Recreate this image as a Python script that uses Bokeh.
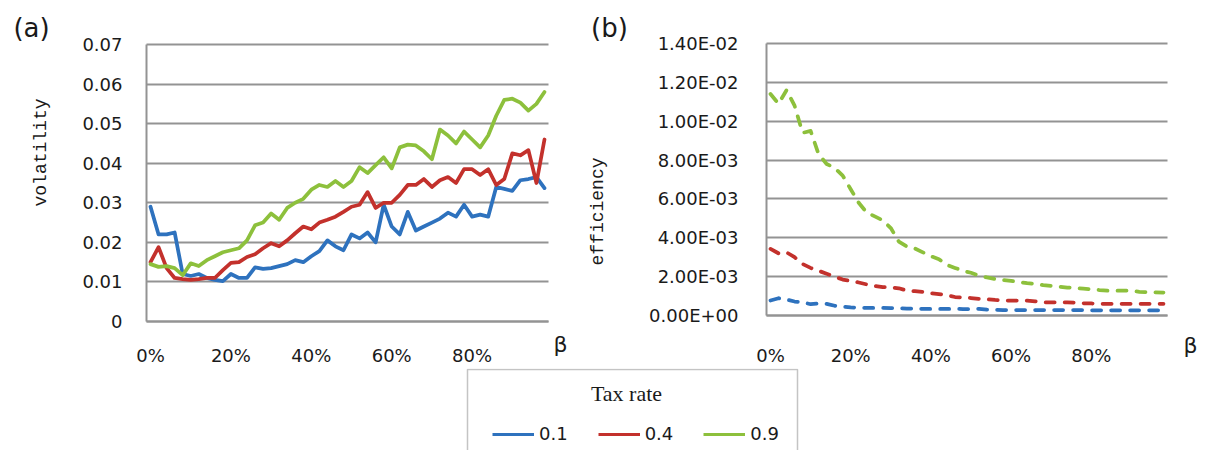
from math import pi
from bokeh.plotting import figure
from bokeh.layouts import row, column
from bokeh.models import (Range1d, FixedTicker, Label, Legend, LegendItem, BoxAnnotation)
from bokeh.embed import file_html
from bokeh.resources import INLINE

# ---------------- data ----------------
beta = list(range(0, 100, 2))  # beta in percent
x_ticks = [0, 20, 40, 60, 80]
x_tick_labels = ["0%", "20%", "40%", "60%", "80%"]
vol_ticks = [0, 0.01, 0.02, 0.03, 0.04, 0.05, 0.06, 0.07]
vol_tick_labels = ["0", "0.01", "0.02", "0.03", "0.04", "0.05", "0.06", "0.07"]
eff_ticks = [0, 0.002, 0.004, 0.006, 0.008, 0.010, 0.012, 0.014]
eff_tick_labels = ["0.00E+00", "2.00E-03", "4.00E-03", "6.00E-03", "8.00E-03",
                   "1.00E-02", "1.20E-02", "1.40E-02"]
tax_rates = ["0.1", "0.4", "0.9"]

vol_01 = [0.029, 0.022, 0.022, 0.0225, 0.012, 0.0115, 0.012, 0.011, 0.0105, 0.0102,
          0.012, 0.011, 0.011, 0.0137, 0.0133, 0.0135, 0.014, 0.0145, 0.0155, 0.015,
          0.0165, 0.0178, 0.0205, 0.019, 0.018, 0.022, 0.021, 0.0225, 0.020, 0.0295,
          0.024, 0.022, 0.0277, 0.023, 0.024, 0.025, 0.026, 0.0275, 0.0265, 0.0295,
          0.0265, 0.027, 0.0265, 0.034, 0.0335, 0.033, 0.0357, 0.036, 0.0365, 0.0337]
vol_04 = [0.015, 0.0188, 0.0135, 0.011, 0.0107, 0.0105, 0.0107, 0.011, 0.011, 0.013,
          0.0148, 0.015, 0.0163, 0.017, 0.0185, 0.0198, 0.019, 0.0205, 0.0223, 0.024,
          0.0233, 0.025, 0.0257, 0.0265, 0.0277, 0.029, 0.0295, 0.0327, 0.0287, 0.030,
          0.030, 0.032, 0.0345, 0.0345, 0.036, 0.034, 0.0357, 0.0365, 0.035, 0.0385,
          0.0385, 0.037, 0.0385, 0.0345, 0.036, 0.0425, 0.042, 0.0433, 0.035, 0.046]
vol_09 = [0.0145, 0.0138, 0.014, 0.0135, 0.0117, 0.0147, 0.014, 0.0155, 0.0165, 0.0175,
          0.018, 0.0185, 0.0205, 0.0243, 0.025, 0.0273, 0.0257, 0.0287, 0.030, 0.031,
          0.0333, 0.0345, 0.034, 0.0355, 0.034, 0.0355, 0.039, 0.0375, 0.0395, 0.0415,
          0.0387, 0.044, 0.0447, 0.0445, 0.043, 0.041, 0.0485, 0.047, 0.045, 0.048,
          0.046, 0.044, 0.047, 0.052, 0.056, 0.0563, 0.0553, 0.0533, 0.055, 0.058]

eff_01 = [7.7e-4, 8.9e-4, 8.2e-4, 7.2e-4, 6.8e-4, 5.8e-4, 6.2e-4, 6.0e-4, 5.0e-4, 4.5e-4,
          4.2e-4, 4.0e-4, 3.9e-4, 3.9e-4, 3.9e-4, 3.8e-4, 3.7e-4, 3.6e-4, 3.5e-4, 3.4e-4,
          3.4e-4, 3.4e-4, 3.4e-4, 3.4e-4, 3.3e-4, 3.2e-4, 3.4e-4, 3.0e-4, 2.9e-4, 2.8e-4,
          2.8e-4, 2.8e-4, 2.8e-4, 2.8e-4, 2.8e-4, 2.8e-4, 2.8e-4, 2.8e-4, 2.8e-4, 2.8e-4,
          2.7e-4, 2.7e-4, 2.7e-4, 2.7e-4, 2.7e-4, 2.7e-4, 2.7e-4, 2.7e-4, 2.7e-4, 2.7e-4]
eff_04 = [3.43e-3, 3.2e-3, 3.25e-3, 3.0e-3, 2.65e-3, 2.45e-3, 2.3e-3, 2.15e-3, 2.0e-3, 1.85e-3,
          1.78e-3, 1.7e-3, 1.6e-3, 1.52e-3, 1.46e-3, 1.45e-3, 1.4e-3, 1.28e-3, 1.25e-3, 1.22e-3,
          1.15e-3, 1.1e-3, 1.05e-3, 0.95e-3, 0.92e-3, 0.9e-3, 0.86e-3, 0.84e-3, 0.8e-3, 0.77e-3,
          0.77e-3, 0.77e-3, 0.76e-3, 0.73e-3, 0.68e-3, 0.68e-3, 0.68e-3, 0.68e-3, 0.66e-3, 0.63e-3,
          0.62e-3, 0.6e-3, 0.6e-3, 0.6e-3, 0.6e-3, 0.6e-3, 0.6e-3, 0.6e-3, 0.6e-3, 0.6e-3]
eff_09 = [11.4e-3, 10.9e-3, 11.6e-3, 10.8e-3, 9.4e-3, 9.5e-3, 8.3e-3, 7.8e-3, 7.6e-3, 7.2e-3,
          6.5e-3, 5.8e-3, 5.3e-3, 5.1e-3, 4.9e-3, 4.5e-3, 3.8e-3, 3.55e-3, 3.45e-3, 3.25e-3,
          3.05e-3, 2.9e-3, 2.6e-3, 2.45e-3, 2.3e-3, 2.2e-3, 2.05e-3, 1.96e-3, 1.88e-3, 1.82e-3,
          1.78e-3, 1.72e-3, 1.67e-3, 1.63e-3, 1.56e-3, 1.52e-3, 1.48e-3, 1.44e-3, 1.41e-3, 1.38e-3,
          1.35e-3, 1.31e-3, 1.28e-3, 1.28e-3, 1.28e-3, 1.27e-3, 1.22e-3, 1.2e-3, 1.19e-3, 1.18e-3]

colors = ["#2E72BE", "#C3312C", "#8DC03C"]

# ---------------- styling / geometry ----------------
TICK_FONT = "DejaVu Sans"
TICK_SIZE = "18px"
TXT = "#1a1a1a"
GRID = "#939393"
ROW_H = 368
X0, X1 = -1, 99  # category span of the plotting area


class Geo:
    """Pixel geometry of one panel; the figure's frame covers its whole canvas."""

    def __init__(self, width, left, right, y0_px, ytop_px, ytop):
        self.width, self.left, self.right = width, left, right
        self.kx = (X1 - X0) / (right - left)
        self.ky = ytop / (y0_px - ytop_px)
        self.y0_px = y0_px

    def x(self, px):
        return X0 + (px - self.left) * self.kx

    def y(self, py):
        return (self.y0_px - py) * self.ky


def make_panel(g, yticks, ylabels, ytop, ystand, xstand):
    p = figure(width=g.width, height=ROW_H, output_backend="svg", toolbar_location=None,
               x_range=Range1d(g.x(0), g.x(g.width)), y_range=Range1d(g.y(ROW_H), g.y(0)))
    p.min_border_left = p.min_border_right = 0
    p.min_border_top = p.min_border_bottom = 0
    p.outline_line_color = None
    p.xgrid.visible = False
    p.ygrid.ticker = FixedTicker(ticks=yticks)
    p.ygrid.grid_line_color = GRID
    p.ygrid.grid_line_width = 2
    try:
        p.ygrid.cross_bounds = (X0, X1)
    except AttributeError:
        pass
    p.yaxis.ticker = FixedTicker(ticks=yticks)
    p.yaxis.major_label_overrides = {t: l for t, l in zip(yticks, ylabels)}
    p.xaxis.ticker = FixedTicker(ticks=x_ticks)
    p.xaxis.major_label_overrides = {t: l for t, l in zip(x_ticks, x_tick_labels)}
    p.yaxis.fixed_location = X0
    p.yaxis.bounds = (0, ytop)
    p.xaxis.fixed_location = 0
    p.xaxis.bounds = (X0, X1)
    for ax in (p.xaxis[0], p.yaxis[0]):
        ax.axis_line_color = GRID
        ax.axis_line_width = 2
        ax.major_tick_line_color = None
        ax.minor_tick_line_color = None
        ax.major_tick_out = 0
        ax.major_tick_in = 0
        ax.major_label_text_font = TICK_FONT
        ax.major_label_text_font_size = TICK_SIZE
        ax.major_label_text_color = TXT
    p.yaxis.major_label_standoff = ystand
    p.xaxis.major_label_standoff = xstand
    return p


def add_label(p, g, px, py, text, font, size, angle=0.0):
    p.add_layout(Label(x=g.x(px), y=g.y(py), text=text, text_font=font,
                       text_font_size=size, text_color=TXT, text_align="center",
                       text_baseline="middle", angle=angle))


# ---------------- panel (a) ----------------
g1 = Geo(575, 146, 548, 321, 44, 0.07)
p1 = make_panel(g1, vol_ticks, vol_tick_labels, 0.07, 24, 23)
for ys, c in zip([vol_01, vol_04, vol_09], colors):
    p1.line(beta, ys, line_color=c, line_width=3.75, line_join="round", line_cap="round")

add_label(p1, g1, 31, 27, "(a)", "DejaVu Sans", "26px")
add_label(p1, g1, 40, 152, "volatility", "Liberation Mono", "18px", pi / 2)
add_label(p1, g1, 560, 344, "β", "DejaVu Sans", "22px")

# ---------------- panel (b) ----------------
P2X = 575
g2 = Geo(633, 766 - P2X, 1167 - P2X, 315, 43, 0.014)
p2 = make_panel(g2, eff_ticks, eff_tick_labels, 0.014, 28, 29)
for ys, c in zip([eff_01, eff_04, eff_09], colors):
    p2.line(beta, ys, line_color=c, line_width=3.75, line_dash="9 10",
            line_join="round", line_cap="round")

add_label(p2, g2, 609 - P2X, 27, "(b)", "DejaVu Sans", "26px")
add_label(p2, g2, 597 - P2X, 211, "efficiency", "Liberation Mono", "18px", pi / 2)
add_label(p2, g2, 1190 - P2X, 345, "β", "DejaVu Sans", "22px")

# ---------------- legend strip ----------------
PL_H = 450 - ROW_H
pl = figure(width=1208, height=PL_H, output_backend="svg", toolbar_location=None,
            x_range=Range1d(0, 1208), y_range=Range1d(PL_H, 0),
            x_axis_type=None, y_axis_type=None)
pl.min_border_left = pl.min_border_right = 0
pl.min_border_top = pl.min_border_bottom = 0
pl.outline_line_color = None
pl.grid.visible = False
pl.extra_y_ranges = {"hidden": Range1d(1, 2)}

items = []
for ys, c, lab in zip([vol_01, vol_04, vol_09], colors, tax_rates):
    r = pl.line(beta, ys, line_color=c, line_width=3, y_range_name="hidden")
    items.append(LegendItem(label=lab, renderers=[r]))

pl.add_layout(BoxAnnotation(left=467, right=797, top=369 - ROW_H, bottom=300,
                            fill_alpha=0, line_color="#3c3c3c", line_width=1.5))
pl.add_layout(Label(x=626, y=393 - ROW_H, text="Tax rate", text_font="Liberation Serif",
                    text_font_size="22px", text_color=TXT, text_align="center",
                    text_baseline="middle"))

leg = Legend(items=items, orientation="horizontal", location=(492, PL_H - (433 - ROW_H) - 11),
             glyph_width=42, glyph_height=20, label_standoff=5, spacing=30,
             padding=0, margin=0, border_line_color=None, background_fill_alpha=0,
             label_text_font=TICK_FONT, label_text_font_size="18px",
             label_text_color=TXT)
pl.add_layout(leg)

layout = column(row(p1, p2), pl)
open("out.html", "w").write(file_html(layout, INLINE))
